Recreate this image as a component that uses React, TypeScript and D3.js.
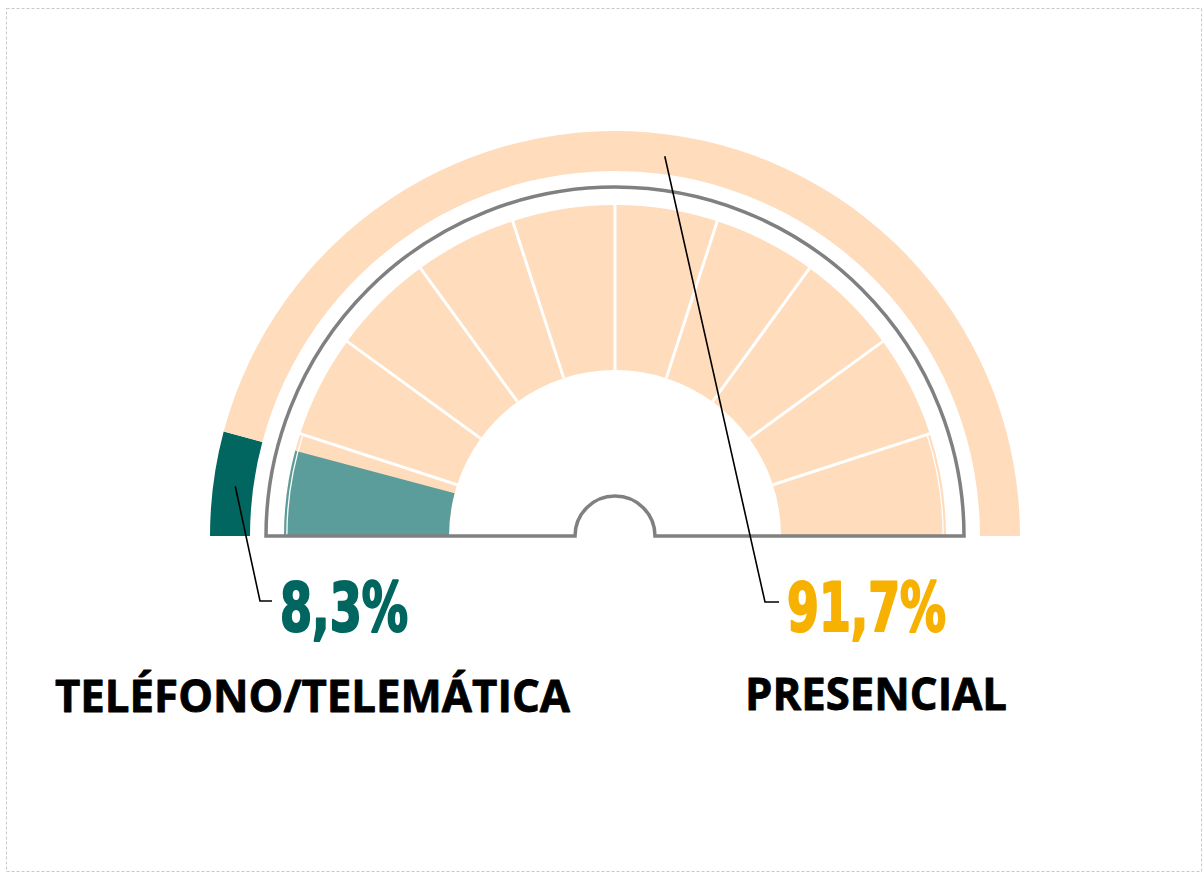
import React from "react";
import * as d3 from "d3";

const categories = ["TELÉFONO/TELEMÁTICA", "PRESENCIAL"];
const values = [8.3, 91.7];
const percentLabels = ["8,3%", "91,7%"];
const gaugeSteps = [0, 10, 20, 30, 40, 50, 60, 70, 80, 90, 100];

const W = 1204;
const H = 873;
const cx = 615;
const cy = 536;

const C = {
  peach: "#fedcbc",
  darkTeal: "#00665f",
  lightTeal: "#5b9d9a",
  gold: "#f7b100",
  gray: "#808080",
};

export default function App() {
  const angle = d3.scaleLinear().domain([0, 100]).range([-Math.PI / 2, Math.PI / 2]);

  const outerArc = d3.arc<any>().innerRadius(365).outerRadius(405);
  const segArc = d3.arc<any>().innerRadius(166).outerRadius(331);

  const cum = [0, values[0], values[0] + values[1]];
  const outerSlices = values.map((v, i) => ({
    startAngle: angle(cum[i]),
    endAngle: angle(cum[i + 1]),
    fill: i === 0 ? C.darkTeal : C.peach,
  }));

  const segments = gaugeSteps.slice(0, -1).map((s, i) => ({
    startAngle: angle(s),
    endAngle: angle(gaugeSteps[i + 1]),
  }));

  const p = d3.path();
  p.moveTo(cx - 349, cy);
  p.arc(cx, cy, 349, Math.PI, 2 * Math.PI);
  p.lineTo(cx + 40, cy);
  p.arc(cx, cy, 40, 0, Math.PI, true);
  p.closePath();

  const thinArc = d3.arc<any>().innerRadius(327.5).outerRadius(328.8);

  const leaderEnds = [
    [[260, 601], [272, 601]],
    [[765, 602], [779, 602]],
  ];
  const midArc = d3.arc<any>().innerRadius(383).outerRadius(383);

  const pctColors = [C.darkTeal, C.gold];
  const pctX = [280, 787];
  const pctW = [130, 161];
  const labX = [55, 745];
  const labW = [515, 262];
  const labY = [712, 710];

  return (
    <div style={{ position: "fixed", left: 0, top: 0, width: W, height: H, background: "#fff" }}>
      <svg width={W} height={H} style={{ display: "block" }}>
        <rect x={6.5} y={8.5} width={1195} height={863} fill="none" stroke="#c8c8c8" strokeWidth={1} strokeDasharray="3 2" />
        <g transform={`translate(${cx},${cy})`}>
          {outerSlices.map((s, i) => (
            <path key={"o" + i} d={outerArc(s) as string} fill={s.fill} />
          ))}
          {segments.map((s, i) => (
            <path key={"s" + i} d={segArc(s) as string} fill={C.peach} />
          ))}
          <path d={segArc({ startAngle: angle(0), endAngle: angle(values[0]) }) as string} fill={C.lightTeal} />
          {gaugeSteps.slice(1, -1).map((s) => {
            const a = angle(s);
            return (
              <line
                key={"l" + s}
                x1={166 * Math.sin(a)}
                y1={-166 * Math.cos(a)}
                x2={332 * Math.sin(a)}
                y2={-332 * Math.cos(a)}
                stroke="#fff"
                strokeWidth={3}
              />
            );
          })}
          {[segments[0], segments[segments.length - 1]].map((s, i) => (
            <path key={"t" + i} d={thinArc(s) as string} fill="#fff" />
          ))}
        </g>
        <path d={p.toString()} fill="none" stroke={C.gray} strokeWidth={3.5} />
        {outerSlices.map((s, i) => {
          const [mx, my] = midArc.centroid(s);
          const pts = [[cx + mx, cy + my], ...leaderEnds[i]];
          return (
            <polyline
              key={"ld" + i}
              points={pts.map((q) => q.join(",")).join(" ")}
              fill="none"
              stroke="#000"
              strokeWidth={1.6}
            />
          );
        })}
        {percentLabels.map((t, i) => (
          <text
            key={"p" + i}
            x={pctX[i]}
            y={631}
            fill={pctColors[i]}
            stroke={pctColors[i]}
            strokeWidth={2.2}
            strokeLinejoin="round"
            fontFamily="'Liberation Sans Narrow', 'Arial Narrow', 'DejaVu Sans Condensed', sans-serif"
            fontWeight={700}
            fontSize={68}
            textLength={pctW[i] - 2}
            lengthAdjust="spacingAndGlyphs"
          >
            {t}
          </text>
        ))}
        {categories.map((t, i) => (
          <text
            key={"c" + i}
            x={labX[i]}
            y={labY[i]}
            fill="#000"
            stroke="#000"
            strokeWidth={0.8}
            strokeLinejoin="round"
            fontFamily="'Open Sans', 'Noto Sans', sans-serif"
            fontWeight={700}
            fontSize={45}
            textLength={labW[i]}
            lengthAdjust="spacingAndGlyphs"
          >
            {t}
          </text>
        ))}
      </svg>
    </div>
  );
}
